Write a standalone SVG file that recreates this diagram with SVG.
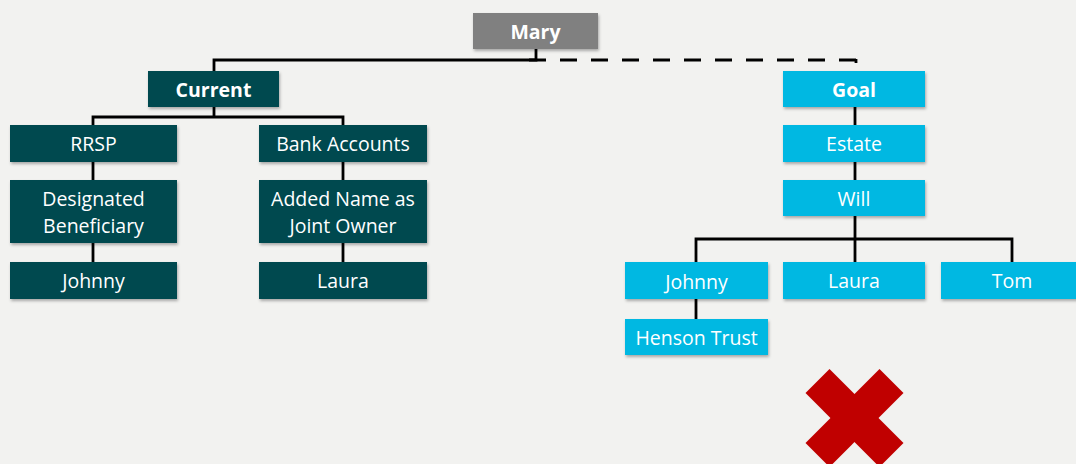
<svg xmlns="http://www.w3.org/2000/svg" width="1076" height="464" viewBox="0 0 1076 464">
<defs>
<filter id="sh" x="-10%" y="-20%" width="120%" height="150%">
<feDropShadow dx="1" dy="2" stdDeviation="1.5" flood-color="#000" flood-opacity="0.3"/>
</filter>
<style>
.c{stroke:#000;stroke-width:2.8;fill:none}
.d{stroke:#000;stroke-width:2.8;fill:none;stroke-dasharray:17 14}
.gr{fill:#808080;filter:url(#sh)}
.tl{fill:#004A50;filter:url(#sh)}
.cy{fill:#00B8E2;filter:url(#sh)}
text{font-family:"Open Sans","Liberation Sans",sans-serif;font-size:19.5px;fill:#fff;text-anchor:middle}
.b{font-weight:bold}
</style>
</defs>
<rect width="1076" height="464" fill="#F2F2F0"/>
<g id="connectors">
<path class="c" d="M536 49V60H214V71"/>
<path class="d" d="M529 60H856"/>
<path class="c" d="M856 59V63"/>
<path class="c" d="M214 107V117H93V125M214 117H343V125"/>
<path class="c" d="M93 162V180M93 243V262"/>
<path class="c" d="M343 162V180M343 243V262"/>
<path class="c" d="M855 107V125M855 162V180M855 216V262"/>
<path class="c" d="M696 262V239H1012V262"/>
<path class="c" d="M696 299V319"/>
</g>
<g id="mary"><rect class="gr" x="473" y="13" width="125" height="36"/><text class="b" x="535.5" y="39">Mary</text></g>
<g id="current"><rect class="tl" x="148" y="71" width="131" height="36"/><text class="b" x="213.5" y="97">Current</text></g>
<g id="rrsp"><rect class="tl" x="10" y="125" width="167" height="37"/><text x="93.5" y="151">RRSP</text></g>
<g id="bank"><rect class="tl" x="259" y="125" width="168" height="37"/><text x="343" y="151">Bank Accounts</text></g>
<g id="designated"><rect class="tl" x="10" y="180" width="167" height="63"/><text x="93.5" y="206">Designated</text><text x="93.5" y="233">Beneficiary</text></g>
<g id="added"><rect class="tl" x="259" y="180" width="168" height="63"/><text x="343" y="206">Added Name as</text><text x="343" y="233">Joint Owner</text></g>
<g id="johnny1"><rect class="tl" x="10" y="262" width="167" height="37"/><text x="93.5" y="288">Johnny</text></g>
<g id="laura1"><rect class="tl" x="259" y="262" width="168" height="37"/><text x="343" y="288">Laura</text></g>
<g id="goal"><rect class="cy" x="783" y="71" width="142" height="36"/><text class="b" x="854" y="97">Goal</text></g>
<g id="estate"><rect class="cy" x="783" y="125" width="142" height="37"/><text x="854" y="151">Estate</text></g>
<g id="will"><rect class="cy" x="783" y="180" width="142" height="36"/><text x="854" y="206">Will</text></g>
<g id="johnny2"><rect class="cy" x="625" y="262" width="143" height="37"/><text x="696.5" y="289">Johnny</text></g>
<g id="laura2"><rect class="cy" x="783" y="262" width="142" height="37"/><text x="854" y="288">Laura</text></g>
<g id="tom"><rect class="cy" x="941" y="262" width="142" height="37"/><text x="1012" y="288">Tom</text></g>
<g id="henson"><rect class="cy" x="625" y="319" width="143" height="36"/><text x="696.5" y="345">Henson Trust</text></g>
<g id="cross" stroke="#C00000" stroke-width="34" stroke-linecap="butt">
<line x1="817.5" y1="381" x2="891.5" y2="455"/>
<line x1="891.5" y1="381" x2="817.5" y2="455"/>
</g>
</svg>
